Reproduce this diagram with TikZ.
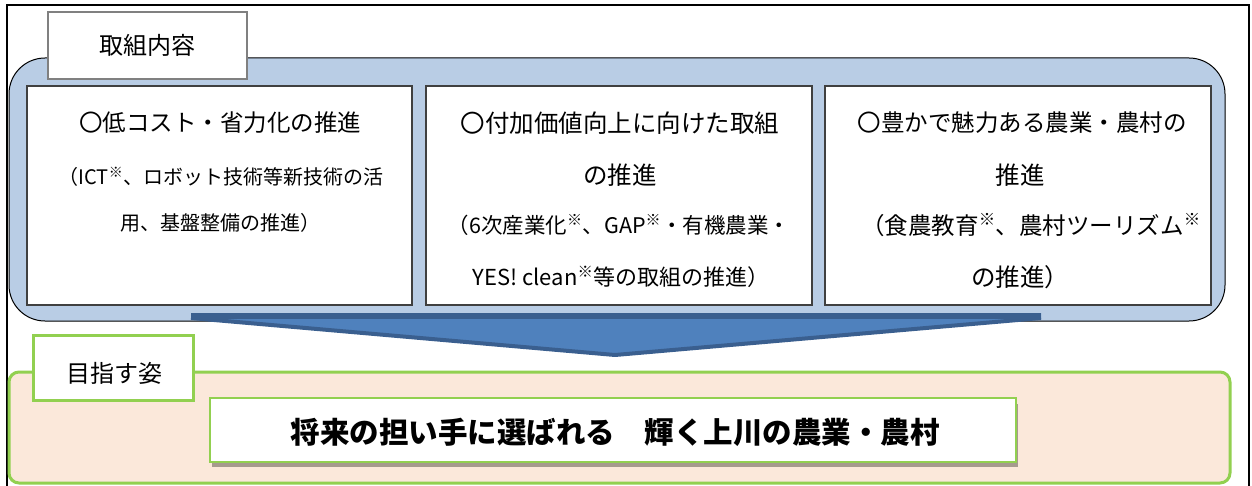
\documentclass[tikz,border=0pt]{standalone}
\usepackage{fontspec}
\setmainfont{Noto Sans CJK JP}
\definecolor{bluefill}{HTML}{B9CDE5}
\definecolor{arrowc}{HTML}{4F81BD}
\definecolor{arrowd}{HTML}{3A5F8F}
\definecolor{greenc}{HTML}{92D050}
\definecolor{peach}{HTML}{FBE8DA}
\definecolor{shadowc}{HTML}{A69A8E}
\definecolor{boxline}{HTML}{404040}
\newcommand{\kome}{\textsuperscript{※}}
\newcommand{\fs}[1]{\fontsize{#1}{#1}\selectfont}
\begin{document}
\begin{tikzpicture}[x=1pt,y=-1pt,
  every node/.style={inner sep=0pt,outer sep=0pt},
  wbox/.style={draw=boxline,line width=1.2pt,fill=white},
  gbox/.style={draw=greenc,line width=3pt,fill=white}]
\useasboundingbox (0,0) rectangle (1252,486);
\fill[white] (0,0) rectangle (1252,486);
% outer frame
\draw[line width=1.8pt] (7,486) -- (7,5) -- (1249,5) -- (1249,486);
% blue panel
\draw[fill=bluefill,line width=1pt,rounded corners=36pt] (9,58) rectangle (1225,321);
% tab
\node[wbox,draw=gray,minimum width=199pt,minimum height=67pt,font=\fs{24}] (tab1) at (147.5,45.5) {取組内容};
% three boxes
\node[wbox,minimum width=385pt,minimum height=219pt] (box1) at (219.5,195.5) {};
\node[wbox,minimum width=386pt,minimum height=219pt] (box2) at (619,195.5) {};
\node[wbox,minimum width=386pt,minimum height=219pt] (box3) at (1018,195.5) {};
% box1 text
\node[font=\fs{23.5}] (b1a) at (220,123) {〇低コスト・省力化の推進};
\node[font=\fs{20}] (b1b) at (221,177) {（ICT\kome、ロボット技術等新技術の活};
\node[font=\fs{20}] (b1c) at (220,223) {用、基盤整備の推進）};
% box2 text
\node[font=\fs{24.5}] (b2a) at (620,123) {〇付加価値向上に向けた取組};
\node[font=\fs{24.5}] (b2b) at (620,175) {の推進};
\node[font=\fs{21.5}] (b2c) at (619,225) {（6次産業化\kome、GAP\kome・有機農業・};
\node[font=\fs{22}] (b2d) at (621,277) {YES! clean\kome 等の取組の推進）};
% box3 text
\node[font=\fs{23.5}] (b3a) at (1022,123) {〇豊かで魅力ある農業・農村の};
\node[font=\fs{24.5}] (b3b) at (1020,175) {推進};
\node[font=\fs{23.5}] (b3c) at (1031,225) {（食農教育\kome、農村ツーリズム\kome};
\node[font=\fs{24.5}] (b3d) at (1020,277) {の推進）};
% arrow
\coordinate (al) at (191,313);
\coordinate (ar) at (1041,313);
\coordinate (tip) at (615,355);
\fill[arrowc] (al) -- (ar) -- ++(0,6) -- (tip) -- (191,319) -- cycle;
\fill[arrowd] (al) rectangle (1041,319);
\draw[arrowd,line width=4pt,line join=round] (191,318) -- (tip) -- (1041,318);
% goal panel
\draw[draw=greenc,line width=3pt,fill=peach,rounded corners=10pt] (9,372) rectangle (1230,483);
\node[gbox,minimum width=160pt,minimum height=65pt] (tab2) at (113,367.5) {};
\node[font=\fs{24}] (tab2t) at (114,373) {目指す姿};
\fill[shadowc] (212,404) rectangle (1018,467);
\node[gbox,line width=2.5pt,minimum width=806pt,minimum height=64pt] (goal) at (613,430) {};
\node[font=\bfseries\fs{29.5}] (goalt) at (615,432) {将来の担い手に選ばれる　輝く上川の農業・農村};
\end{tikzpicture}
\end{document}
